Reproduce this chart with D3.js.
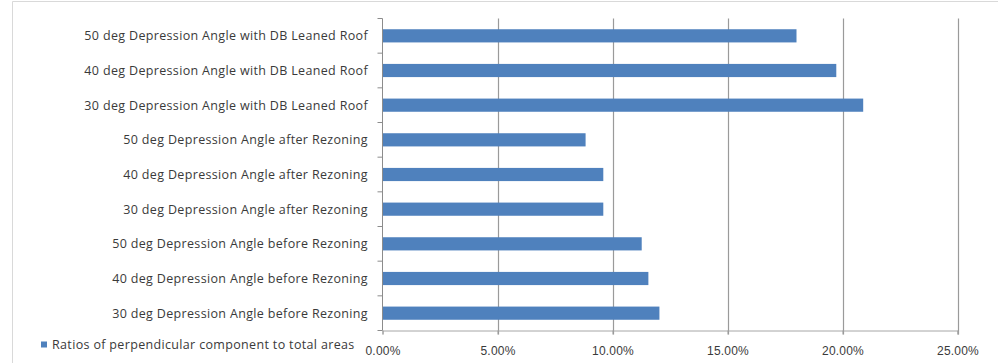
<!DOCTYPE html>
<html>
<head>
<meta charset="utf-8">
<script src="https://cdn.jsdelivr.net/npm/d3@7"></script>
<style>
  body { margin: 0; background: #fff; }
  svg { display: block; font-family: "Open Sans", sans-serif; }
</style>
</head>
<body>
<svg id="chart" width="998" height="363"></svg>
<script>
'use strict';

// categories, top to bottom as shown
const categories = [
  '50 deg Depression Angle with DB Leaned Roof',
  '40 deg Depression Angle with DB Leaned Roof',
  '30 deg Depression Angle with DB Leaned Roof',
  '50 deg Depression Angle after Rezoning',
  '40 deg Depression Angle after Rezoning',
  '30 deg Depression Angle after Rezoning',
  '50 deg Depression Angle before Rezoning',
  '40 deg Depression Angle before Rezoning',
  '30 deg Depression Angle before Rezoning'
];

// ratio values (fraction)
const ratios = [0.180, 0.1973, 0.209, 0.0883, 0.096, 0.096, 0.1127, 0.1156, 0.1204];

const xTicks = [0, 0.05, 0.10, 0.15, 0.20, 0.25];
const seriesName = 'Ratios of perpendicular component to total areas';

const svg = d3.select('#chart');

// outer chart border (only top and left edges are visible in the frame)
svg.append('path')
   .attr('d', 'M12.5,363 V1.5 H998')
   .attr('fill', 'none')
   .attr('stroke', '#d9d9d9')
   .attr('stroke-width', 1);

const plot = { left: 382.5, right: 957.5, top: 18.5, bottom: 330.5 };

const x = d3.scaleLinear()
   .domain([0, 0.25])
   .range([plot.left, plot.right]);

const y = d3.scaleBand()
   .domain(categories)
   .range([plot.top, plot.bottom])
   .paddingInner(0.62)
   .paddingOuter(0.31);

// vertical gridlines
svg.append('g')
   .selectAll('line')
   .data(xTicks.slice(1))
   .join('line')
     .attr('x1', d => Math.round(x(d)) + 0.5)
     .attr('x2', d => Math.round(x(d)) + 0.5)
     .attr('y1', plot.top)
     .attr('y2', plot.bottom + 4)
     .attr('stroke', '#9a9a9a')
     .attr('stroke-width', 1.2);

// bars
svg.append('g')
   .selectAll('rect')
   .data(ratios)
   .join('rect')
     .attr('x', x(0))
     .attr('y', (d, i) => y(categories[i]))
     .attr('width', d => x(d) - x(0))
     .attr('height', y.bandwidth())
     .attr('fill', '#4f81bd');

// x axis
const xAxis = d3.axisBottom(x)
   .tickValues(xTicks)
   .tickFormat(d => (d * 100).toFixed(2) + '%')
   .tickSize(4)
   .tickPadding(12);

const gx = svg.append('g')
   .attr('transform', `translate(0, ${plot.bottom})`)
   .call(xAxis);
gx.select('.domain').attr('stroke', '#a6a6a6');
gx.selectAll('.tick line').attr('stroke', '#9a9a9a');
gx.selectAll('text')
   .attr('fill', '#3a3a3a')
   .style('font-size', '12px')
   .style('letter-spacing', '0.2px');

// y axis: ticks on category boundaries, labels centered
const yAxisLine = svg.append('g');
yAxisLine.append('line')
   .attr('x1', plot.left).attr('x2', plot.left)
   .attr('y1', plot.top).attr('y2', plot.bottom)
   .attr('stroke', '#8c8c8c');

yAxisLine.selectAll('.ytick')
   .data(d3.range(categories.length + 1))
   .join('line')
     .attr('class', 'ytick')
     .attr('x1', plot.left - 5).attr('x2', plot.left)
     .attr('y1', i => plot.top + i * y.step())
     .attr('y2', i => plot.top + i * y.step())
     .attr('stroke', '#8c8c8c');

svg.append('g')
   .selectAll('text')
   .data(categories)
   .join('text')
     .attr('x', 368)
     .attr('y', d => y(d) + y.bandwidth() / 2)
     .attr('dy', '0.35em')
     .attr('text-anchor', 'end')
     .attr('fill', '#3a3a3a')
     .style('font-size', '12.5px')
     .style('letter-spacing', '0.34px')
     .text(d => d);

// legend
const legend = svg.append('g').attr('transform', 'translate(41, 345)');
legend.append('rect')
   .attr('x', 0).attr('y', -3.5)
   .attr('width', 6).attr('height', 6)
   .attr('fill', '#4f81bd');
legend.append('text')
   .attr('x', 11)
   .attr('y', 0)
   .attr('dy', '0.35em')
   .attr('fill', '#3a3a3a')
   .style('font-size', '12.5px')
   .style('letter-spacing', '0.34px')
   .text(seriesName);
</script>
</body>
</html>
